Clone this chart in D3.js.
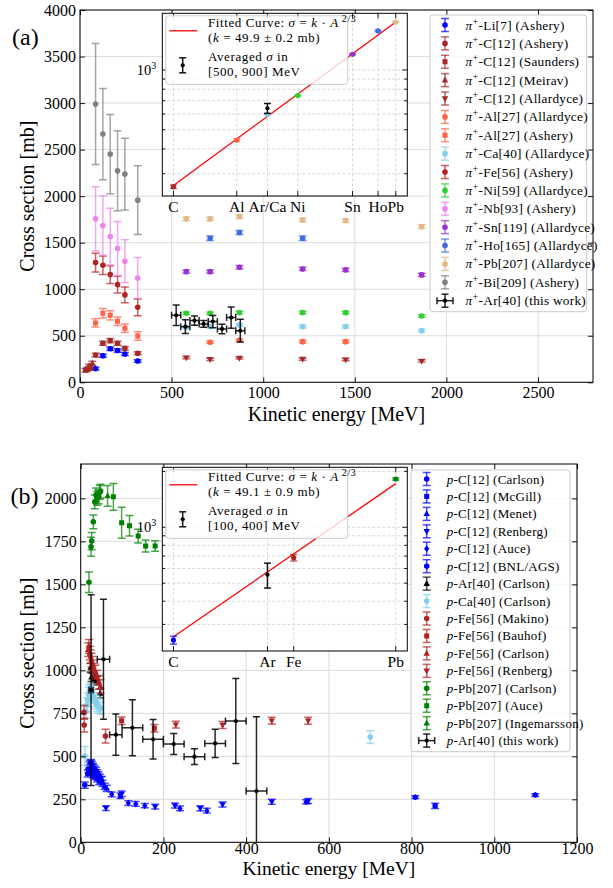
<!DOCTYPE html>
<html>
<head>
<meta charset="utf-8">
<script src="https://cdn.jsdelivr.net/npm/d3@7"></script>
<style>
body { margin: 0; background: #fff; }
text { font-family: "Liberation Serif", "DejaVu Serif", serif; }
</style>
</head>
<body>
<script>
'use strict';

const W = 613, H = 888;

// ---------- panel (a): pi+ data, rows are [E (MeV), sigma (mb), err (mb)] ----------
const piLiAshery = [[85, 146, 15], [125, 286, 18], [165, 360, 18], [205, 342, 18], [245, 304, 16], [315, 229, 14]];
const piCAshery = [[85, 293, 20], [125, 419, 22], [165, 448, 22], [205, 419, 22], [245, 365, 20], [315, 312, 16]];
const piCSaunders = [[30, 130, 18], [40, 140, 18], [50, 150, 18], [58, 165, 18]];
const piCMeirav = [[50, 175, 20], [67, 205, 22]];
const piCAllardyce = [[580, 265, 12], [710, 247, 12], [870, 261, 12], [1215, 250, 12], [1450, 243, 12], [1865, 229, 12]];
const piAlAllardyce = [[710, 430, 14], [870, 451, 14], [1215, 437, 14], [1450, 437, 14]];
const piAlAshery = [[85, 638, 45], [125, 742, 50], [165, 720, 50], [205, 656, 45], [245, 581, 45], [315, 498, 45]];
const piCaAllardyce = [[580, 591, 14], [710, 598, 14], [870, 616, 14], [1215, 598, 14], [1450, 598, 14], [1865, 555, 14]];
const piFeAshery = [[85, 1286, 100], [125, 1258, 100], [165, 1157, 95], [205, 1049, 90], [245, 939, 85], [315, 806, 90]];
const piNiAllardyce = [[580, 742, 14], [710, 742, 14], [870, 749, 14], [1215, 749, 14], [1450, 749, 14], [1865, 713, 14]];
const piNbAshery = [[85, 1756, 345], [125, 1684, 320], [165, 1566, 305], [205, 1437, 290], [245, 1301, 230], [315, 1121, 220]];
const piSnAllardyce = [[580, 1189, 18], [710, 1189, 18], [870, 1236, 18], [1215, 1218, 18], [1450, 1208, 18], [1865, 1154, 18]];
const piHoAllardyce = [[710, 1548, 25], [870, 1609, 22], [1215, 1548, 25]];
const piPbAllardyce = [[580, 1756, 20], [710, 1756, 20], [870, 1781, 20], [1215, 1745, 20], [1450, 1738, 20], [1865, 1673, 20]];
const piBiAshery = [[85, 2989, 650], [125, 2667, 490], [165, 2452, 425], [205, 2272, 430], [245, 2237, 385], [315, 1957, 370]];
// this work: [E, sigma, err, half bin width]
const piArThisWork = [[525, 720, 110, 25], [575, 598, 75, 25], [625, 663, 50, 25], [675, 627, 36, 25],
    [725, 652, 66, 25], [775, 573, 52, 25], [825, 695, 113, 25], [875, 555, 122, 25]];

// inset (a): averaged sigma in [500, 900] MeV, rows are [A, sigma, err]
const insetLabelsA = ['C', 'Al', 'Ar/Ca', 'Ni', 'Sn', 'Ho', 'Pb'];
const insetMassA = [12, 27, 40, 59, 119, 165, 207];
const avgAC = [[12, 258, 5]];
const avgAAl = [[27, 443, 6]];
const avgACa = [[40, 598, 6]];
const avgANi = [[59, 743, 6]];
const avgASn = [[119, 1200, 9]];
const avgAHo = [[165, 1573, 14]];
const avgAPb = [[207, 1746, 9]];
const avgAAr = [[40, 641, 37]];
const fitKA = 49.9;

// ---------- panel (b): proton data ----------
const pCCarlson = [[10, 333, 18], [17, 400, 20], [19, 425, 22], [21, 445, 22], [23, 455, 22], [25, 462, 20], [27, 452, 20],
    [29, 440, 20], [31, 432, 20], [34, 424, 20], [37, 415, 20], [40, 404, 18], [43, 392, 18], [46, 378, 18], [49, 365, 18]];
const pCMcGill = [[20, 410, 20], [24, 432, 20], [28, 418, 20], [32, 402, 20], [36, 390, 20], [41, 380, 18], [96, 270, 16]];
const pCMenet = [[30, 395, 20], [35, 385, 20], [40, 370, 20], [45, 355, 20], [51, 362, 20], [53, 343, 18], [58, 325, 18], [63, 314, 18]];
const pCRenberg = [[61, 199, 14], [99, 283, 16], [180, 207, 14], [228, 214, 14], [289, 198, 14], [343, 220, 14], [462, 236, 14], [550, 240, 14]];
const pCAuce = [[75, 279, 14], [115, 228, 14], [133, 223, 14], [155, 213, 12], [240, 197, 14], [305, 184, 14], [545, 236, 12]];
const pCBNL = [[809, 262, 8], [857, 212, 15], [1099, 275, 8]];
const pArCarlson = [[24, 1016, 25], [26, 960, 25], [33, 950, 25], [40, 940, 25], [47, 866, 25]];
const pCaCarlson = [[10, 502, 55], [13, 760, 40], [15, 800, 40], [17, 830, 40], [19, 860, 40], [21, 880, 40], [23, 870, 40],
    [25, 860, 40], [28, 880, 40], [30, 850, 40], [33, 830, 40], [36, 815, 40], [40, 800, 40], [44, 790, 40], [48, 780, 35], [700, 612, 37]];
const pFeMakino = [[8, 756, 40], [8.5, 682, 40], [60, 618, 40]];
const pFeBauhof = [[99, 707, 22], [178, 663, 22]];
const pFeCarlson = [[18, 1120, 40], [20, 1140, 40], [22, 1100, 40], [24, 1080, 40], [26, 1060, 40], [28, 1040, 40],
    [30, 1020, 40], [33, 1000, 40], [36, 990, 40], [40, 960, 40], [44, 930, 40], [48, 905, 40]];
const pFeRenberg = [[230, 684, 20], [343, 682, 20], [462, 707, 20], [550, 707, 20]];
const pPbCarlson = [[20, 1512, 60], [25, 1719, 55], [26.5, 1752, 50], [30.5, 1864, 40], [34, 1980, 40], [37, 2020, 40],
    [40, 2000, 40], [43, 2009, 40], [46, 2035, 40], [48, 2042, 40]];
const pPbAuce = [[79, 2009, 78], [99, 1858, 90], [118, 1841, 60], [139, 1781, 40], [157, 1723, 35], [180, 1723, 30]];
const pPbIngemarsson = [[65, 2015, 60]];
const pArThisWork = [[25, 885, 555, 5], [55, 1064, 349, 15], [85, 626, 120, 15], [125, 666, 163, 25], [175, 599, 115, 25],
    [225, 571, 61, 25], [275, 498, 46, 25], [325, 575, 82, 25], [375, 705, 247, 25], [425, 298, 432, 25]];

// inset (b): averaged sigma in [100, 400] MeV
const insetLabelsB = ['C', 'Ar', 'Fe', 'Pb'];
const insetMassB = [12, 40, 56, 207];
const avgBC = [[12, 247, 12]];
const avgBFe = [[56, 686, 28]];
const avgBPb = [[207, 1820, 25]];
const avgBAr = [[40, 556, 85]];
const fitKB = 49.1;

const xTicksA = [0, 500, 1000, 1500, 2000, 2500];
const yTicksA = [0, 500, 1000, 1500, 2000, 2500, 3000, 3500, 4000];
const xTicksB = [0, 200, 400, 600, 800, 1000, 1200];
const yTicksB = [0, 250, 500, 750, 1000, 1250, 1500, 1750, 2000];

// ---------- styling tables built from the arrays above ----------
const seriesA = [
    {p: 'pi', label: '-Li[7] (Ashery)', color: '#0000ff', marker: 'o', data: piLiAshery},
    {p: 'pi', label: '-C[12] (Ashery)', color: '#a52a2a', marker: 'o', data: piCAshery},
    {p: 'pi', label: '-C[12] (Saunders)', color: '#a52a2a', marker: 's', data: piCSaunders},
    {p: 'pi', label: '-C[12] (Meirav)', color: '#a52a2a', marker: '^', data: piCMeirav},
    {p: 'pi', label: '-C[12] (Allardyce)', color: '#a52a2a', marker: 'v', data: piCAllardyce},
    {p: 'pi', label: '-Al[27] (Allardyce)', color: '#ff6347', marker: 'o', data: piAlAllardyce},
    {p: 'pi', label: '-Al[27] (Ashery)', color: '#ff6347', marker: 's', data: piAlAshery},
    {p: 'pi', label: '-Ca[40] (Allardyce)', color: '#87ceeb', marker: 'o', data: piCaAllardyce},
    {p: 'pi', label: '-Fe[56] (Ashery)', color: '#b22222', marker: 'o', data: piFeAshery},
    {p: 'pi', label: '-Ni[59] (Allardyce)', color: '#32cd32', marker: 'o', data: piNiAllardyce},
    {p: 'pi', label: '-Nb[93] (Ashery)', color: '#ee82ee', marker: 'o', data: piNbAshery},
    {p: 'pi', label: '-Sn[119] (Allardyce)', color: '#9932cc', marker: 'o', data: piSnAllardyce},
    {p: 'pi', label: '-Ho[165] (Allardyce)', color: '#4169e1', marker: 'o', data: piHoAllardyce},
    {p: 'pi', label: '-Pb[207] (Allardyce)', color: '#deb887', marker: 'o', data: piPbAllardyce},
    {p: 'pi', label: '-Bi[209] (Ashery)', color: '#808080', marker: 'o', data: piBiAshery},
    {p: 'pi', label: '-Ar[40] (this work)', color: '#000000', marker: 'o', data: piArThisWork, work: true}
];

const seriesB = [
    {p: 'p', label: '-C[12] (Carlson)', color: '#0000ff', marker: 'o', data: pCCarlson},
    {p: 'p', label: '-C[12] (McGill)', color: '#0000ff', marker: 's', data: pCMcGill},
    {p: 'p', label: '-C[12] (Menet)', color: '#0000ff', marker: '^', data: pCMenet},
    {p: 'p', label: '-C[12] (Renberg)', color: '#0000ff', marker: 'v', data: pCRenberg},
    {p: 'p', label: '-C[12] (Auce)', color: '#0000ff', marker: 'D', data: pCAuce},
    {p: 'p', label: '-C[12] (BNL/AGS)', color: '#0000ff', marker: 'h', data: pCBNL},
    {p: 'p', label: '-Ar[40] (Carlson)', color: '#000000', marker: '^', data: pArCarlson},
    {p: 'p', label: '-Ca[40] (Carlson)', color: '#87ceeb', marker: 'o', data: pCaCarlson},
    {p: 'p', label: '-Fe[56] (Makino)', color: '#b22222', marker: 'o', data: pFeMakino},
    {p: 'p', label: '-Fe[56] (Bauhof)', color: '#b22222', marker: 's', data: pFeBauhof},
    {p: 'p', label: '-Fe[56] (Carlson)', color: '#b22222', marker: '^', data: pFeCarlson},
    {p: 'p', label: '-Fe[56] (Renberg)', color: '#b22222', marker: 'v', data: pFeRenberg},
    {p: 'p', label: '-Pb[207] (Carlson)', color: '#008000', marker: 'o', data: pPbCarlson},
    {p: 'p', label: '-Pb[207] (Auce)', color: '#008000', marker: 's', data: pPbAuce},
    {p: 'p', label: '-Pb[207] (Ingemarsson)', color: '#008000', marker: '^', data: pPbIngemarsson},
    {p: 'p', label: '-Ar[40] (this work)', color: '#000000', marker: 'o', data: pArThisWork, work: true}
];

const insetSeriesA = [
    {color: '#a52a2a', data: avgAC}, {color: '#ff6347', data: avgAAl}, {color: '#87ceeb', data: avgACa},
    {color: '#32cd32', data: avgANi}, {color: '#9932cc', data: avgASn}, {color: '#4169e1', data: avgAHo},
    {color: '#deb887', data: avgAPb}, {color: '#000000', data: avgAAr, work: true}
];
const insetSeriesB = [
    {color: '#0000ff', data: avgBC}, {color: '#b22222', data: avgBFe},
    {color: '#008000', data: avgBPb}, {color: '#000000', data: avgBAr, work: true}
];

const svg = d3.select('body').append('svg')
    .attr('width', W)
    .attr('height', H);

function markerPath(m, r) {
    const p = d3.path();
    if (m === 's') {
        p.rect(-r * 0.9, -r * 0.9, r * 1.8, r * 1.8);
    } else if (m === '^') {
        p.moveTo(0, -r * 1.3); p.lineTo(r * 1.15, r * 0.8); p.lineTo(-r * 1.15, r * 0.8); p.closePath();
    } else if (m === 'v') {
        p.moveTo(0, r * 1.3); p.lineTo(r * 1.15, -r * 0.8); p.lineTo(-r * 1.15, -r * 0.8); p.closePath();
    } else if (m === 'D') {
        p.moveTo(0, -r * 1.25); p.lineTo(r * 0.95, 0); p.lineTo(0, r * 1.25); p.lineTo(-r * 0.95, 0); p.closePath();
    } else if (m === 'h') {
        for (let i = 0; i < 6; i++) {
            const a = Math.PI / 2 + i * Math.PI / 3;
            const px = r * 1.1 * Math.cos(a), py = r * 1.1 * Math.sin(a);
            if (i === 0) p.moveTo(px, py); else p.lineTo(px, py);
        }
        p.closePath();
    } else {
        p.arc(0, 0, r, 0, 2 * Math.PI);
    }
    return p.toString();
}

// one errorbar point in pixel space
function errorbar(layer, cx, cy, yLo, yHi, xLo, xHi, st) {
    const g = layer.append('g');
    const bars = g.append('g')
        .attr('stroke', st.color)
        .attr('stroke-width', st.lw)
        .attr('stroke-opacity', st.alpha);
    bars.append('line').attr('x1', cx).attr('x2', cx).attr('y1', yLo).attr('y2', yHi);
    [yLo, yHi].forEach(yy => {
        bars.append('line').attr('x1', cx - st.cap).attr('x2', cx + st.cap).attr('y1', yy).attr('y2', yy);
    });
    if (xLo !== null) {
        bars.append('line').attr('x1', xLo).attr('x2', xHi).attr('y1', cy).attr('y2', cy);
        [xLo, xHi].forEach(xx => {
            bars.append('line').attr('x1', xx).attr('x2', xx).attr('y1', cy - st.cap).attr('y2', cy + st.cap);
        });
    }
    g.append('path')
        .attr('d', markerPath(st.marker, st.r))
        .attr('transform', `translate(${cx},${cy})`)
        .attr('fill', st.color);
}

function styleFor(s) {
    if (s.work) {
        return {color: '#000', lw: 1.5, alpha: 0.85, cap: 3.5, r: 2.1, marker: 'o'};
    }
    return {color: s.color, lw: 1.5, alpha: 0.7, cap: 4, r: 2.8, marker: s.marker};
}

// legend label; the raised "+" is its own small text so lines do not collide
function labelText(lg, x, y, fs, prefix, rest) {
    if (prefix === 'pi') {
        const a = lg.append('text').attr('x', x).attr('y', y).attr('font-size', fs)
            .attr('font-style', 'italic').text('π');
        const wa = a.node().getComputedTextLength();
        const b = lg.append('text').attr('x', x + wa + 0.6).attr('y', y - 5).attr('font-size', fs * 0.7).text('+');
        const wb = b.node().getComputedTextLength();
        lg.append('text').attr('x', x + wa + wb + 1.2).attr('y', y).attr('font-size', fs)
            .attr('letter-spacing', 0.25).text(rest);
    } else {
        const t = lg.append('text').attr('x', x).attr('y', y).attr('font-size', fs).attr('letter-spacing', 0.25);
        t.append('tspan').attr('font-style', 'italic').text('p');
        t.append('tspan').text(rest);
    }
}

function mainPanel(c) {
    const w = c.right - c.left, h = c.bottom - c.top;
    const g = svg.append('g').attr('transform', `translate(${c.left},${c.top})`);
    const x = d3.scaleLinear().domain(c.xDomain).range([0, w]);
    const y = d3.scaleLinear().domain(c.yDomain).range([h, 0]);

    // grid
    const grid = g.append('g').attr('stroke', '#dddddd').attr('stroke-width', 1);
    grid.selectAll('.gx').data(c.xTicks).join('line')
        .attr('x1', d => x(d)).attr('x2', d => x(d)).attr('y1', 0).attr('y2', h);
    grid.selectAll('.gy').data(c.yTicks).join('line')
        .attr('x1', 0).attr('x2', w).attr('y1', d => y(d)).attr('y2', d => y(d));

    // data
    svg.append('clipPath').attr('id', c.id + '-clip')
        .append('rect').attr('width', w).attr('height', h);
    const data = g.append('g').attr('clip-path', `url(#${c.id}-clip)`);
    c.series.forEach(s => {
        const st = styleFor(s);
        s.data.forEach(d => {
            const xe = s.work ? d[3] : null;
            errorbar(data, x(d[0]), y(d[1]), y(d[1] - d[2]), y(d[1] + d[2]),
                xe === null ? null : x(d[0] - xe), xe === null ? null : x(d[0] + xe), st);
        });
    });

    // axes, ticks pointing inward
    const ax = g.append('g');
    ax.append('g').attr('transform', `translate(0,${h})`)
        .call(d3.axisBottom(x).tickValues(c.xTicks).tickSize(-5).tickPadding(c.xPad).tickFormat(d3.format('d')));
    ax.append('g')
        .call(d3.axisTop(x).tickValues(c.xTicks).tickSize(-5).tickFormat(''));
    ax.append('g')
        .call(d3.axisLeft(y).tickValues(c.yTicks).tickSize(-5).tickPadding(4).tickFormat(d3.format('d')));
    ax.append('g').attr('transform', `translate(${w},0)`)
        .call(d3.axisRight(y).tickValues(c.yTicks).tickSize(-5).tickFormat(''));
    ax.selectAll(':scope > g').attr('font-size', 16).attr('font-family', null);
    ax.selectAll('.domain').remove();
    ax.selectAll('.tick line').attr('stroke', '#000').attr('stroke-width', 0.9);
    ax.selectAll('.tick text').attr('fill', '#000');
    g.append('rect').attr('width', w).attr('height', h)
        .attr('fill', 'none').attr('stroke', '#000').attr('stroke-width', 1);

    // titles
    g.append('text').attr('x', w / 2).attr('y', c.xTitleY - c.top)
        .attr('text-anchor', 'middle').attr('font-size', c.xTitleFs).text('Kinetic energy [MeV]');
    g.append('text').attr('transform', `translate(${34 - c.left},${h / 2}) rotate(-90)`)
        .attr('text-anchor', 'middle').attr('font-size', 20).text('Cross section [mb]');
    svg.append('text').attr('x', c.tagX).attr('y', c.tagY).attr('font-size', 24).text(c.tag);

    return {x, y};
}

function mainLegend(c) {
    const lg = svg.append('g');
    lg.append('rect').attr('x', c.x0).attr('y', c.y0)
        .attr('width', c.x1 - c.x0).attr('height', c.y1 - c.y0)
        .attr('rx', 3).attr('fill', '#fff').attr('fill-opacity', 0.8)
        .attr('stroke', '#cccccc').attr('stroke-width', 1);
    c.series.forEach((s, i) => {
        const cy = c.first + i * c.step;
        const st = styleFor(s);
        errorbar(lg, c.mx, cy, cy + 6.5, cy - 6.5,
            s.work ? c.mx - 8 : null, s.work ? c.mx + 8 : null, st);
        labelText(lg, c.tx, cy + 4.5, c.fs, s.p, s.label);
    });
}

function insetPanel(c) {
    const w = c.right - c.left, h = c.bottom - c.top;
    const g = svg.append('g').attr('transform', `translate(${c.left},${c.top})`);
    const x = d3.scaleLog().domain([10.4, 240]).range([0, w]);
    const y = d3.scaleLog().domain(c.yDomain).range([h, 0]);
    const [ylo, yhi] = c.yDomain;
    const minor = [200, 300, 400, 500, 600, 700, 800, 900, 2000, 3000].filter(v => v > ylo && v < yhi);

    g.append('rect').attr('width', w).attr('height', h).attr('fill', '#fff');

    // dashed grid
    const grid = g.append('g').attr('stroke', '#cfcfcf').attr('stroke-width', 0.8).attr('stroke-dasharray', '3,2');
    grid.selectAll('.vx').data(c.mass).join('line')
        .attr('x1', d => x(d)).attr('x2', d => x(d)).attr('y1', 0).attr('y2', h);
    grid.selectAll('.hy').data(minor.concat([1000])).join('line')
        .attr('x1', 0).attr('x2', w).attr('y1', d => y(d)).attr('y2', d => y(d));

    // ticks
    const tk = g.append('g').attr('stroke', '#000').attr('stroke-width', 0.9);
    c.mass.forEach(m => {
        tk.append('line').attr('x1', x(m)).attr('x2', x(m)).attr('y1', h).attr('y2', h - 5);
        tk.append('line').attr('x1', x(m)).attr('x2', x(m)).attr('y1', 0).attr('y2', 5);
    });
    minor.forEach(v => {
        tk.append('line').attr('x1', 0).attr('x2', 3).attr('y1', y(v)).attr('y2', y(v));
        tk.append('line').attr('x1', w).attr('x2', w - 3).attr('y1', y(v)).attr('y2', y(v));
    });
    tk.append('line').attr('x1', 0).attr('x2', 5).attr('y1', y(1000)).attr('y2', y(1000));
    tk.append('line').attr('x1', w).attr('x2', w - 5).attr('y1', y(1000)).attr('y2', y(1000));

    // fitted curve sigma = k A^(2/3)
    const fitA = [12, 207];
    g.append('path')
        .attr('d', d3.line().x(a => x(a)).y(a => y(c.k * Math.pow(a, 2 / 3)))(fitA))
        .attr('stroke', '#ff0000').attr('stroke-width', 1.3).attr('fill', 'none');

    // averaged points
    c.series.forEach(s => {
        const st = s.work
            ? {color: '#000', lw: 1.5, alpha: 0.9, cap: 3.5, r: 2.1, marker: 'o'}
            : {color: s.color, lw: 1.4, alpha: 0.75, cap: 3.5, r: 2.6, marker: 'o'};
        s.data.forEach(d => {
            errorbar(g, x(d[0]), y(d[1]), y(d[1] - d[2]), y(d[1] + d[2]), null, null, st);
        });
    });

    // legend
    const lg = g.append('g');
    lg.append('rect').attr('x', 3.4).attr('y', 2.5).attr('width', 182).attr('height', 68.5)
        .attr('rx', 3).attr('fill', '#fff').attr('fill-opacity', 0.8)
        .attr('stroke', '#cccccc').attr('stroke-width', 1);
    lg.append('line').attr('x1', 7).attr('x2', 35).attr('y1', 17.5).attr('y2', 17.5)
        .attr('stroke', '#ff0000').attr('stroke-width', 1.3);
    errorbar(lg, 20.4, 52, 44.5, 59.5, null, null,
        {color: '#000', lw: 1.5, alpha: 0.9, cap: 3.5, r: 2.1, marker: 'o'});
    const tx = 45.7;
    const fs = 13;
    const ls = 0.6;
    const t1 = lg.append('text').attr('x', tx).attr('y', 13.8).attr('font-size', fs).attr('letter-spacing', ls);
    t1.append('tspan').text('Fitted Curve: ');
    t1.append('tspan').attr('font-style', 'italic').text('σ');
    t1.append('tspan').text(' = ');
    t1.append('tspan').attr('font-style', 'italic').text('k');
    t1.append('tspan').text(' · ');
    t1.append('tspan').attr('font-style', 'italic').text('A');
    t1.append('tspan').attr('dx', 3).attr('dy', -5.5).attr('font-size', 10).text('2/3');
    const t2 = lg.append('text').attr('x', tx).attr('y', 28.5).attr('font-size', fs).attr('letter-spacing', ls);
    t2.append('tspan').text('(');
    t2.append('tspan').attr('font-style', 'italic').text('k');
    t2.append('tspan').text(` = ${c.kText} mb)`);
    const t3 = lg.append('text').attr('x', tx).attr('y', 47.8).attr('font-size', fs).attr('letter-spacing', ls);
    t3.append('tspan').text('Averaged ');
    t3.append('tspan').attr('font-style', 'italic').text('σ');
    t3.append('tspan').text(' in');
    lg.append('text').attr('x', tx).attr('y', 62.5).attr('font-size', fs).attr('letter-spacing', ls).text(c.range);

    g.append('rect').attr('width', w).attr('height', h)
        .attr('fill', 'none').attr('stroke', '#000').attr('stroke-width', 1);

    // labels
    g.selectAll('.ml').data(c.labels).join('text')
        .attr('x', (d, i) => x(c.mass[i])).attr('y', h + 16)
        .attr('text-anchor', 'middle').attr('font-size', 15.5).text(d => d);
    const pl = g.append('text').attr('x', -6).attr('y', y(1000) + 5)
        .attr('text-anchor', 'end').attr('font-size', 14.5);
    pl.append('tspan').text('10');
    pl.append('tspan').attr('dy', -6).attr('font-size', 10).text('3');
}

// ---------- panel (a) ----------
mainPanel({
    id: 'pa', left: 80, right: 593, top: 10, bottom: 382.3,
    xDomain: [0, 2800], yDomain: [0, 4000], xTicks: xTicksA, yTicks: yTicksA,
    series: seriesA, xPad: 4, xTitleY: 421, xTitleFs: 20, tag: '(a)', tagX: 12, tagY: 45
});
insetPanel({
    left: 162.3, right: 407.3, top: 13.3, bottom: 196, yDomain: [231.6, 1931],
    mass: insetMassA, labels: insetLabelsA, series: insetSeriesA,
    k: fitKA, kText: '49.9 ± 0.2', range: '[500, 900] MeV'
});
mainLegend({series: seriesA, x0: 430, x1: 586.7, y0: 15, y1: 311.7, first: 25, step: 18.38, mx: 445, tx: 465.5, fs: 13.3});

// ---------- panel (b) ----------
mainPanel({
    id: 'pb', left: 80.7, right: 577, top: 464, bottom: 842.3,
    xDomain: [0, 1200], yDomain: [0, 2200], xTicks: xTicksB, yTicks: yTicksB,
    series: seriesB, xPad: 0, xTitleY: 874.5, xTitleFs: 19.5, tag: '(b)', tagX: 10.5, tagY: 504
});
insetPanel({
    left: 162.3, right: 407.3, top: 467.3, bottom: 651, yDomain: [215.8, 2104],
    mass: insetMassB, labels: insetLabelsB, series: insetSeriesB,
    k: fitKB, kText: '49.1 ± 0.9', range: '[100, 400] MeV'
});
mainLegend({series: seriesB, x0: 411, x1: 570, y0: 470, y1: 751.7, first: 479, step: 17.44, mx: 426.7, tx: 446.7, fs: 13});
</script>
</body>
</html>
